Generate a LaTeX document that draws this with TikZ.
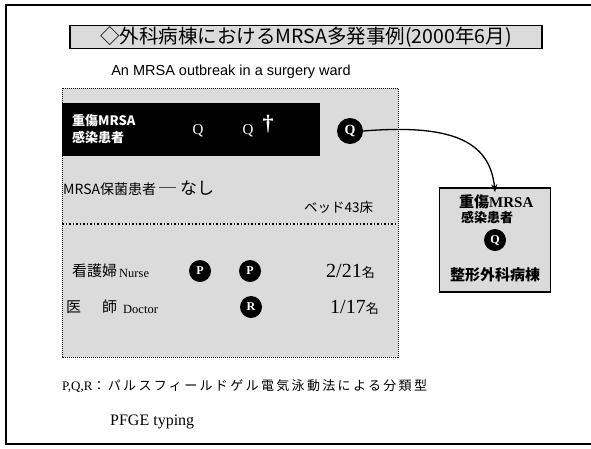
\documentclass[tikz,border=0pt]{standalone}
\usepackage{fontspec}
\usetikzlibrary{arrows.meta}
\setmainfont{Liberation Serif}
\newfontfamily\jp{Noto Sans CJK JP}
\newfontfamily\jpsp[LetterSpace=18]{Noto Sans CJK JP}
\newfontfamily\arial{Liberation Sans}
\begin{document}
\begin{tikzpicture}[x=1pt,y=-1pt,
  stipple/.style={fill=black!14},
  pcirc/.style={circle,fill=black,text=white,inner sep=0pt,minimum size=22pt,font=\bfseries\fontsize{12}{12}\selectfont},
  lbl/.style={anchor=west,inner sep=0pt},
  conn/.style={-{Stealth[length=8pt,width=6pt]},line width=1.3pt}]
\useasboundingbox (0,0) rectangle (591,448);
% outer frame
\draw[line width=2pt] (591,5) -- (6,5) -- (6,444) -- (591,444);
% title
\node[draw,line width=1.5pt,stipple,minimum width=472pt,minimum height=23pt,inner sep=0pt] (title) at (306,37)
  {\jp\fontsize{19.5}{19.5}\selectfont ◇外科病棟におけるMRSA多発事例(2000年6月)};
\node[inner sep=0pt] (sub) at (231,72) {\arial\fontsize{14.5}{14.5}\selectfont An MRSA outbreak in a surgery ward};
% ward region
\fill[stipple] (62,88) rectangle (398,357);
\draw[densely dotted,line width=1pt] (62,88) rectangle (398,357);
\node[fill=black,minimum width=258pt,minimum height=53pt,inner sep=0pt] (bbox) at (191,129) {};
\node[lbl,text=white,align=left,font=\jp\bfseries\fontsize{13}{17}\selectfont] (sev) at (72,129) {重傷MRSA\\感染患者};
\node[text=white,font=\fontsize{15}{15}\selectfont] (q1) at (198,131) {Q};
\node[text=white,font=\fontsize{15}{15}\selectfont] (q2) at (248,131) {Q};
\node[text=white,font=\bfseries\fontsize{22}{22}\selectfont] (dag) at (268,124) {\textdagger};
\node[pcirc,minimum size=26pt,font=\bfseries\fontsize{14}{14}\selectfont] (qc) at (350,131) {Q};
% carriers
\node[lbl,font=\jp\fontsize{14}{14}\selectfont] (carr) at (63,188) {MRSA保菌患者 {\fontsize{17}{17}\selectfont ─ なし}};
\node[lbl,font=\jp\fontsize{13.5}{13.5}\selectfont] (bed) at (304,207) {ベッド43床};
\draw[dotted,line width=1.5pt] (62,224) -- (398,224);
% nurse
\node[lbl,font=\jp\fontsize{15}{15}\selectfont] (nj) at (72,271) {看護婦};
\node[lbl,font=\fontsize{12.5}{12.5}\selectfont] (ne) at (119,273) {Nurse};
\node[pcirc] (p1) at (200,271) {P};
\node[pcirc] (p2) at (250,271) {P};
\node[lbl,font=\fontsize{20}{20}\selectfont] (nc) at (326,271) {2/21{\jp\fontsize{13}{13}\selectfont 名}};
% doctor
\node[lbl,font=\jp\fontsize{15}{15}\selectfont] (dj) at (66,307) {医\hspace{21pt}師};
\node[lbl,font=\fontsize{12.5}{12.5}\selectfont] (de) at (123,309) {Doctor};
\node[pcirc] (r1) at (251,307) {R};
\node[lbl,font=\fontsize{20}{20}\selectfont] (dc) at (330,307) {1/17{\jp\fontsize{13}{13}\selectfont 名}};
% right box
\node[draw,line width=1.5pt,stipple,minimum width=111pt,minimum height=104pt,inner sep=0pt] (rbox) at (495,240) {};
\node[lbl,font=\jp\bfseries\fontsize{15}{15}\selectfont] (rt1) at (459,202) {重傷{\rmfamily MRSA}};
\node[lbl,font=\jp\bfseries\fontsize{13}{13}\selectfont] (rt2) at (461,217) {感染患者};
\node[pcirc] (rq) at (495,240) {Q};
\node[font=\jp\bfseries\fontsize{15}{15}\selectfont] (rt3) at (495,275) {整形外科病棟};
\draw[conn] (qc.east) .. controls (450,124) and (490,140) .. ([yshift=-5pt]rbox.north);
% legend
\node[lbl,font=\fontsize{13}{13}\selectfont] (leg) at (62,386) {P,Q,R{\jpsp\fontsize{13}{13}\selectfont ：パルスフィールドゲル電気泳動法による分類型}};
\node[lbl,font=\fontsize{16}{16}\selectfont] (pfge) at (110,422) {PFGE typing};
\end{tikzpicture}
\end{document}
